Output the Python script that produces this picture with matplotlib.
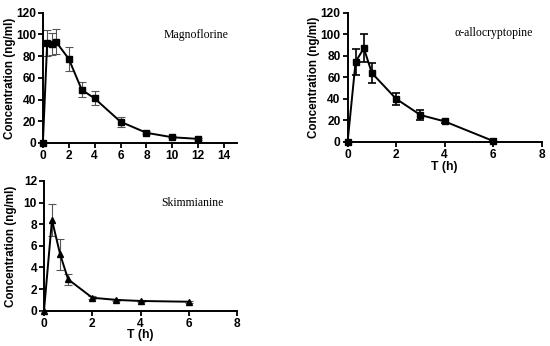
import matplotlib
matplotlib.use('Agg')
import matplotlib.pyplot as plt

# Magnoflorine
t_mag = [0, 0.33, 0.67, 1, 2, 3, 4, 6, 8, 10, 12]
c_mag = [0, 92.5, 91, 93.5, 77.5, 49, 41, 19.5, 9.3, 5.2, 3.7]
e_mag = [0, 12, 10, 11.5, 11, 7, 6.5, 4.5, 1.5, 1, 1]

# alpha-allocryptopine
t_alc = [0, 0.33, 0.67, 1, 2, 3, 4, 6]
c_alc = [0, 74.5, 87, 64, 40, 25, 19, 0.8]
e_alc = [0, 12, 13, 9.5, 5.5, 4.7, 1, 1]

# Skimmianine
t_ski = [0, 0.33, 0.67, 1, 2, 3, 4, 6]
c_ski = [0, 8.4, 5.2, 2.9, 1.2, 1.0, 0.9, 0.83]
e_ski = [0, 1.5, 1.4, 0.5, 0.15, 0.1, 0.1, 0.1]

plt.rcParams['font.family'] = 'Liberation Sans'

fig = plt.figure(figsize=(5.5, 3.46), dpi=100)
ax1 = fig.add_axes([0.078, 0.587, 0.353, 0.376])
ax2 = fig.add_axes([0.632, 0.590, 0.353, 0.373])
ax3 = fig.add_axes([0.080, 0.102, 0.351, 0.375])


def style(ax, xmax, xstep, ymax, ystep, name, tx, ty, xlab_y=None):
    ax.set_xlim(0, xmax)
    ax.set_ylim(0, ymax)
    ax.set_xticks(range(0, int(xmax) if xmax % xstep else int(xmax) + 1, xstep))
    ax.set_yticks(range(0, ymax + 1, ystep))
    for s in ['top', 'right']:
        ax.spines[s].set_visible(False)
    for s in ['left', 'bottom']:
        ax.spines[s].set_linewidth(1.4)
    ax.tick_params(direction='out', width=1.3, length=3.5, labelsize=8.6, pad=1.5)
    for lab in ax.get_xticklabels() + ax.get_yticklabels():
        lab.set_fontweight('bold')
    ax.set_ylabel('Concentration (ng/ml)', fontsize=8.4, fontweight='bold')
    ax.yaxis.set_label_coords(-0.14, 0.5)
    if xlab_y is not None:
        ax.set_xlabel('T (h)', fontsize=8.8, fontweight='bold')
        ax.xaxis.set_label_coords(0.5, xlab_y)
    ax.text(tx, ty, name, transform=ax.transAxes, fontsize=8.5,
            family='Liberation Serif', ha='center', va='center')


ax1.errorbar(t_mag, c_mag, yerr=e_mag, color='black', ecolor='#555555', elinewidth=0.8,
             capsize=3, capthick=0.8, marker='s', markersize=5, linewidth=1.4, clip_on=False)
style(ax1, 15, 2, 120, 20, 'Magnoflorine', 0.79, 0.83)

ax2.errorbar(t_alc, c_alc, yerr=e_alc, color='black', ecolor='black', elinewidth=1.2,
             capsize=3, capthick=1.2, marker='s', markersize=5, linewidth=1.4, clip_on=False)
style(ax2, 8, 2, 120, 20, '\u03b1-allocryptopine', 0.75, 0.84, xlab_y=-0.15)

ax3.errorbar(t_ski, c_ski, yerr=e_ski, color='black', ecolor='#555555', elinewidth=0.8,
             capsize=3, capthick=0.8, marker='^', markersize=5, linewidth=1.4, clip_on=False)
style(ax3, 8, 2, 12, 2, 'Skimmianine', 0.77, 0.83, xlab_y=-0.14)

fig.savefig('out.png', dpi=100)
